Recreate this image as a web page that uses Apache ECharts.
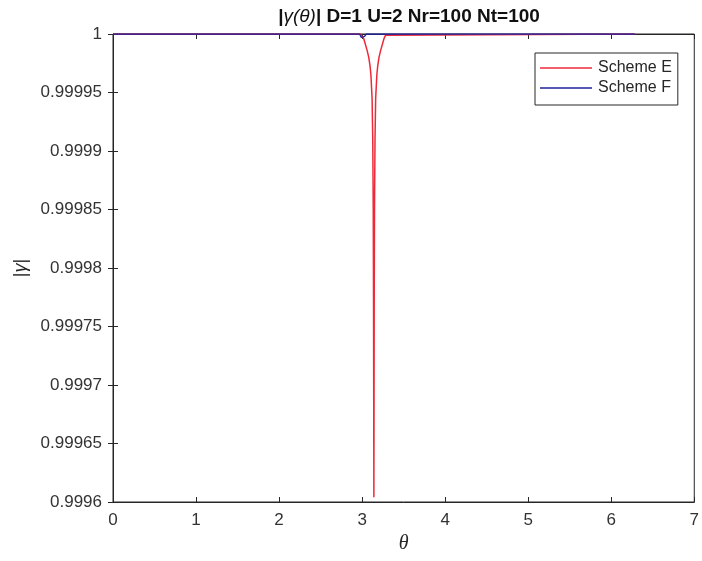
<!DOCTYPE html>
<html>
<head>
<meta charset="utf-8">
<script src="https://cdn.jsdelivr.net/npm/echarts@6/dist/echarts.min.js"></script>
<style>html,body{margin:0;padding:0;background:#fff;}#chart{width:702px;height:561px;}</style>
</head>
<body>
<div id="chart"></div>
<script>
// Data
var seriesNames = ['Scheme E', 'Scheme F'];
var thetaE = [0, 2.98, 3.00, 3.02, 3.04, 3.06, 3.08, 3.095, 3.106, 3.12, 3.128, 3.134, 3.1376, 3.1396, 3.1416,
              3.1436, 3.1456, 3.1492, 3.1552, 3.1632, 3.1772, 3.1882, 3.2032, 3.2232, 3.2432, 3.2632, 3.2832, 3.3032, 6.2832];
var valueE = [1, 1, 0.999999, 0.999996, 0.999991, 0.999986, 0.99998, 0.999973, 0.999965, 0.999945, 0.99991, 0.99985, 0.99977, 0.99969, 0.999604,
              0.99969, 0.99977, 0.99985, 0.99991, 0.999945, 0.999965, 0.999973, 0.99998, 0.999986, 0.999991, 0.999996, 0.999999, 1, 1];
var thetaF = [0, 2.97, 2.99, 3.01, 3.03, 3.05, 6.2832];
var valueF = [1, 1, 0.999997, 0.999996, 0.999998, 1, 1];
var xTicks = [0, 1, 2, 3, 4, 5, 6, 7];
var yTicks = [0.9996, 0.99965, 0.9997, 0.99975, 0.9998, 0.99985, 0.9999, 0.99995, 1];

function pairs(xs, ys) { return xs.map(function (x, i) { return [x, ys[i]]; }); }

var txt = '#262626';
var lab = '#333333';
var font = 'Liberation Sans';
var chart = echarts.init(document.getElementById('chart'));
var tickStyle = { show: true, inside: true, length: 5, lineStyle: { color: txt, width: 1 } };
chart.setOption({
  animation: false,
  backgroundColor: '#fff',
  title: {
    text: '{a||}{i|γ(θ)}{a|| D=1 U=2 Nr=100 Nt=100}',
    left: 404, textAlign: 'center', top: 2,
    textStyle: {
      rich: {
        a: { fontFamily: font, fontWeight: 'bold', fontSize: 19, color: '#111' },
        i: { fontFamily: font, fontStyle: 'italic', fontWeight: 'normal', fontSize: 19, color: '#111' }
      }
    }
  },
  legend: {
    orient: 'vertical', left: 535, top: 53, width: 132,
    padding: [7, 6, 9, 5], itemGap: 4, itemWidth: 52, itemHeight: 1.5,
    icon: 'rect', borderColor: txt, borderWidth: 1, backgroundColor: '#fff',
    textStyle: { fontFamily: font, fontSize: 16, color: txt, lineHeight: 14, padding: [0, 0, 0, 1] },
    data: seriesNames
  },
  grid: { left: 113, right: 6, top: 34, bottom: 59, show: true, borderColor: txt, borderWidth: 1 },
  xAxis: [{
    type: 'value', min: xTicks[0], max: xTicks[xTicks.length - 1], interval: 1,
    name: 'θ', nameLocation: 'middle', nameGap: 32,
    nameTextStyle: { fontFamily: 'Liberation Serif', fontStyle: 'italic', fontSize: 20, color: txt },
    axisLine: { show: true, lineStyle: { color: txt } },
    axisTick: tickStyle, splitLine: { show: false },
    axisLabel: { fontFamily: font, fontSize: 17, color: lab, margin: 10 }
  }, {
    type: 'value', position: 'top', min: xTicks[0], max: xTicks[xTicks.length - 1], interval: 1,
    axisLine: { show: true, lineStyle: { color: txt } },
    axisTick: tickStyle, splitLine: { show: false }, axisLabel: { show: false }
  }],
  yAxis: [{
    type: 'value', min: yTicks[0], max: yTicks[yTicks.length - 1], interval: 0.00005,
    name: '{p||}{g|γ}{p||}', nameLocation: 'middle', nameGap: 80, nameRotate: 90,
    nameTextStyle: { rich: {
      p: { fontFamily: font, fontSize: 18, color: txt },
      g: { fontFamily: font, fontStyle: 'italic', fontSize: 18, color: txt }
    } },
    axisLine: { show: true, lineStyle: { color: txt } },
    axisTick: tickStyle, splitLine: { show: false },
    axisLabel: { fontFamily: font, fontSize: 17, color: lab, margin: 11,
      formatter: function (v) { return String(+v.toFixed(5)); } }
  }, {
    type: 'value', position: 'right', min: yTicks[0], max: yTicks[yTicks.length - 1], interval: 0.00005,
    axisLine: { show: true, lineStyle: { color: txt } },
    axisTick: tickStyle, splitLine: { show: false }, axisLabel: { show: false }
  }],
  series: [{
    name: seriesNames[0], type: 'line', data: pairs(thetaE, valueE),
    showSymbol: false, symbol: 'none', lineStyle: { color: '#ee2a38', width: 1.5 }, itemStyle: { color: '#ee2a38' }
  }, {
    name: seriesNames[1], type: 'line', data: pairs(thetaF, valueF),
    showSymbol: false, symbol: 'none', lineStyle: { color: '#2020a0', width: 1.3 }, itemStyle: { color: '#2020a0' }
  }]
});
</script>
</body>
</html>
